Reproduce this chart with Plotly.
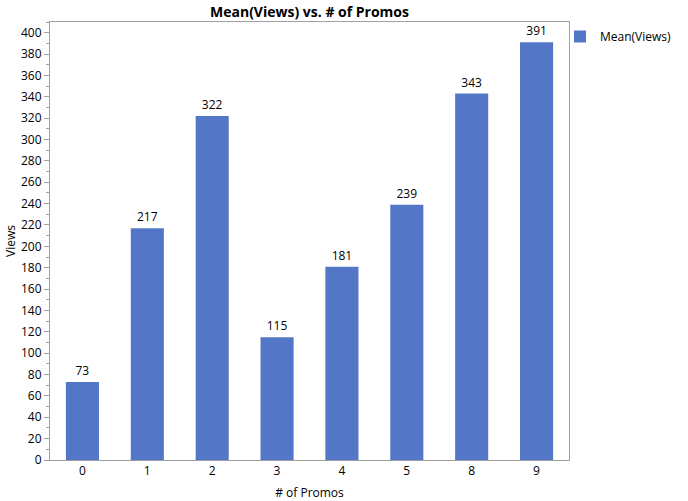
import plotly.graph_objects as go

promos = ["0", "1", "2", "3", "4", "5", "8", "9"]
mean_views = [73, 217, 322, 115, 181, 239, 343, 391]
y_ticks = list(range(0, 401, 20))

bar_color = "#5377C6"
axis_color = "#A0A0A0"
font_family = "Open Sans, DejaVu Sans, sans-serif"

fig = go.Figure(go.Bar(
    x=promos, y=mean_views, name="Mean(Views)",
    marker=dict(color=bar_color, line=dict(width=0)),
    text=[str(v) for v in mean_views], textposition="outside",
    textfont=dict(size=12, color="black"), cliponaxis=False,
    showlegend=True,
))

fig.update_layout(
    width=688, height=501,
    margin=dict(l=50, r=119, t=22, b=41, autoexpand=False),
    paper_bgcolor="white", plot_bgcolor="white",
    font=dict(family=font_family, size=12, color="black"),
    title=dict(text="<b>Mean(Views) vs. # of Promos</b>", x=(50 + 569) / 2 / 688, xanchor="center",
               y=1 - 12 / 501, yanchor="middle", font=dict(size=14, color="black")),
    bargap=0.49,
    legend=dict(xref="container", yref="container", x=560 / 688, y=1 - 22 / 501,
                xanchor="left", yanchor="top", font=dict(size=12),
                itemwidth=30, tracegroupgap=0, bgcolor="rgba(0,0,0,0)"),
)
fig.update_xaxes(
    type="category", showline=True, linecolor=axis_color, linewidth=1, mirror=True,
    ticks="", showgrid=False, automargin=False,
    title=dict(text="# of Promos", font=dict(size=12), standoff=10),
)
fig.update_yaxes(
    range=[0, 410], tickvals=y_ticks, showline=True, linecolor=axis_color, linewidth=1, mirror=True,
    ticks="outside", ticklen=5, tickcolor=axis_color, showgrid=False, zeroline=False, automargin=False,
    minor=dict(ticks="outside", ticklen=3, dtick=10, tickcolor=axis_color, showgrid=False),
    title=dict(text="Views", font=dict(size=12), standoff=2),
)

fig.write_html("out.html", config={"displayModeBar": False},
               post_script="document.body.style.margin='0';document.body.style.padding='0';")
